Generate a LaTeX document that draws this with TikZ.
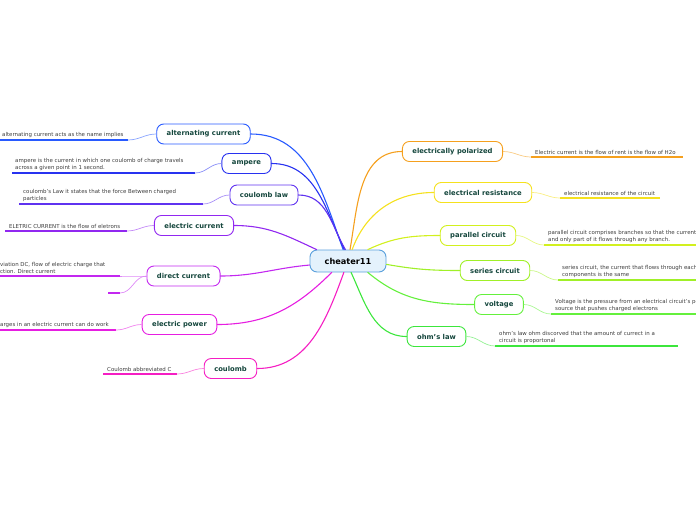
\documentclass[tikz,border=0pt]{standalone}
\usepackage{fontspec}
\setmainfont{DejaVu Sans}
\definecolor{cAC}{RGB}{40,90,255}
\definecolor{cAM}{RGB}{40,50,240}
\definecolor{cCL}{RGB}{95,50,240}
\definecolor{cEC}{RGB}{145,40,240}
\definecolor{cDC}{RGB}{195,40,240}
\definecolor{cEP}{RGB}{230,30,225}
\definecolor{cCO}{RGB}{245,30,195}
\definecolor{cPOL}{RGB}{245,160,30}
\definecolor{cER}{RGB}{245,225,30}
\definecolor{cPC}{RGB}{210,240,30}
\definecolor{cSC}{RGB}{160,240,40}
\definecolor{cVO}{RGB}{100,240,60}
\definecolor{cOHM}{RGB}{60,230,60}
\definecolor{labelc}{RGB}{20,70,60}
\definecolor{leafc}{RGB}{60,60,60}
\definecolor{centfill}{RGB}{228,242,252}
\definecolor{centdraw}{RGB}{90,160,220}
\tikzset{
  mainbox/.style={draw, line width=0.9pt, rounded corners=7pt, fill=white,
    minimum height=20pt, inner xsep=10pt, inner ysep=0pt,
    font=\fontsize{6.8}{8}\selectfont\bfseries, text=labelc},
  centbox/.style={draw=centdraw, line width=0.9pt, rounded corners=7pt, fill=centfill,
    minimum height=22pt, minimum width=76pt, inner ysep=0pt,
    font=\fontsize{8.2}{10}\selectfont\bfseries, text={RGB:red,20;green,30;blue,70}},
  leaftext/.style={inner sep=0pt, anchor=south west, align=left, text=leafc,
    font=\fontsize{5.45}{7}\selectfont},
  branch/.style={line width=1.1pt, line cap=round},
  leafline/.style={line width=1.6pt},
  twig/.style={line width=0.7pt}
}
\begin{document}
\begin{tikzpicture}[x=1pt,y=-1pt]
\useasboundingbox (0,0) rectangle (696,520);
\clip (0,0) rectangle (696,520);

% central node
\node[centbox] (c) at (348,261) {cheater11};

% main nodes left
\node[mainbox, draw=cAC] (ac) at (203.5,134) {alternating current};
\node[mainbox, draw=cAM] (am) at (246.5,163.5) {ampere};
\node[mainbox, draw=cCL] (cl) at (264,195) {coulomb law};
\node[mainbox, draw=cEC] (ec) at (194,225.5) {electric current};
\node[mainbox, draw=cDC] (dc) at (183.5,276) {direct current};
\node[mainbox, draw=cEP] (ep) at (179.5,324.5) {electric power};
\node[mainbox, draw=cCO] (co) at (230.5,368.5) {coulomb};

% main nodes right
\node[mainbox, draw=cPOL] (pol) at (452.5,151.5) {electrically polarized};
\node[mainbox, draw=cER] (er) at (483,192.5) {electrical resistance};
\node[mainbox, draw=cPC] (pc) at (478,235.5) {parallel circuit};
\node[mainbox, draw=cSC] (sc) at (495,270.5) {series circuit};
\node[mainbox, draw=cVO] (vo) at (499,304.5) {voltage};
\node[mainbox, draw=cOHM] (ohm) at (436.5,336.5) {ohm's law};

% branches
\draw[branch, cAC] (c.113) to[out=110, in=0] (ac.east);
\draw[branch, cAM] (c.108) to[out=115, in=0] (am.east);
\draw[branch, cCL] (c.103) to[out=120, in=0] (cl.east);
\draw[branch, cEC] (c.160) to[out=155, in=0] (ec.east);
\draw[branch, cDC] (c.186) to[out=185, in=0] (dc.east);
\draw[branch, cEP] (c.215) to[out=225, in=0] (ep.east);
\draw[branch, cCO] (c.250) to[out=250, in=0] (co.east);
\draw[branch, cPOL] (c.80) to[out=80, in=180] (pol.west);
\draw[branch, cER] (c.70) to[out=70, in=180] (er.west);
\draw[branch, cPC] (c.30) to[out=25, in=180] (pc.west);
\draw[branch, cSC] (c.-5) to[out=-10, in=180] (sc.west);
\draw[branch, cVO] (c.-30) to[out=-40, in=180] (vo.west);
\draw[branch, cOHM] (c.-75) to[out=-65, in=180] (ohm.west);

% leaves left
\coordinate (acA) at (0,140); \coordinate (acB) at (128,140);
\draw[leafline, cAC] (acA) -- (acB);
\draw[twig, cAC!55] (ac.west) to[out=180, in=0] (acB);
\node[leaftext] (acT) at (2,137.5) {alternating current acts as the name implies};

\coordinate (amA) at (12,173); \coordinate (amB) at (195,173);
\draw[leafline, cAM] (amA) -- (amB);
\draw[twig, cAM!55] (am.west) to[out=180, in=0] (amB);
\node[leaftext] (amT) at (15,170.5) {ampere is the current in which one coulomb of charge travels\\across a given point in 1 second.};

\coordinate (clA) at (19,204) ; \coordinate (clB) at (203,204);
\draw[leafline, cCL] (clA) -- (clB);
\draw[twig, cCL!55] (cl.west) to[out=180, in=0] (clB);
\node[leaftext] (clT) at (23,201.5) {coulomb's Law it states that the force Between charged\\particles};

\coordinate (ecA) at (5,231); \coordinate (ecB) at (127,231);
\draw[leafline, cEC] (ecA) -- (ecB);
\draw[twig, cEC!55] (ec.west) to[out=180, in=0] (ecB);
\node[leaftext] (ecT) at (9,228.5) {ELETRIC CURRENT is the flow of eletrons};

\coordinate (dcA) at (0,276); \coordinate (dcB) at (120,276);
\draw[leafline, cDC] (dcA) -- (dcB);
\draw[twig, cDC!55] (dc.west) to[out=180, in=0] (dcB);
\node[leaftext] (dcT) at (0,273.5) {viation DC, flow of electric charge that\\ction. Direct current};
\coordinate (dcC) at (108,293); \coordinate (dcD) at (120,293);
\draw[leafline, cDC] (dcC) -- (dcD);
\draw[twig, cDC!55] (dc.west) to[out=180, in=0] (dcD);

\coordinate (epA) at (0,330); \coordinate (epB) at (116,330);
\draw[leafline, cEP] (epA) -- (epB);
\draw[twig, cEP!55] (ep.west) to[out=180, in=0] (epB);
\node[leaftext] (epT) at (0,327.5) {arges in an electric current can do work};

\coordinate (coA) at (103,374); \coordinate (coB) at (177,374);
\draw[leafline, cCO] (coA) -- (coB);
\draw[twig, cCO!55] (co.west) to[out=180, in=0] (coB);
\node[leaftext] (coT) at (107,371.5) {Coulomb abbreviated C};

% leaves right
\coordinate (polA) at (531,157); \coordinate (polB) at (683,157);
\draw[leafline, cPOL] (polA) -- (polB);
\draw[twig, cPOL!55] (pol.east) to[out=0, in=180] (polA);
\node[leaftext] (polT) at (535,154.5) {Electric current is the flow of rent is the flow of H2o};

\coordinate (erA) at (560,198); \coordinate (erB) at (660,198);
\draw[leafline, cER] (erA) -- (erB);
\draw[twig, cER!55] (er.east) to[out=0, in=180] (erA);
\node[leaftext] (erT) at (564,195.5) {electrical resistance of the circuit};

\coordinate (pcA) at (544,245); \coordinate (pcB) at (700,245);
\draw[leafline, cPC] (pcA) -- (pcB);
\draw[twig, cPC!55] (pc.east) to[out=0, in=180] (pcA);
\node[leaftext] (pcT) at (548,242.5) {parallel circuit comprises branches so that the current\\and only part of it flows through any branch.};

\coordinate (scA) at (558,280); \coordinate (scB) at (700,280);
\draw[leafline, cSC] (scA) -- (scB);
\draw[twig, cSC!55] (sc.east) to[out=0, in=180] (scA);
\node[leaftext] (scT) at (562,277.5) {series circuit, the current that flows through each\\components is the same};

\coordinate (voA) at (551,314); \coordinate (voB) at (700,314);
\draw[leafline, cVO] (voA) -- (voB);
\draw[twig, cVO!55] (vo.east) to[out=0, in=180] (voA);
\node[leaftext] (voT) at (555,311.5) {Voltage is the pressure from an electrical circuit's power\\source that pushes charged electrons};

\coordinate (ohmA) at (495,346); \coordinate (ohmB) at (678,346);
\draw[leafline, cOHM] (ohmA) -- (ohmB);
\draw[twig, cOHM!55] (ohm.east) to[out=0, in=180] (ohmA);
\node[leaftext] (ohmT) at (499,343.5) {ohm's law ohm discorved that the amount of currect in a\\circuit is proportonal};
\end{tikzpicture}
\end{document}
